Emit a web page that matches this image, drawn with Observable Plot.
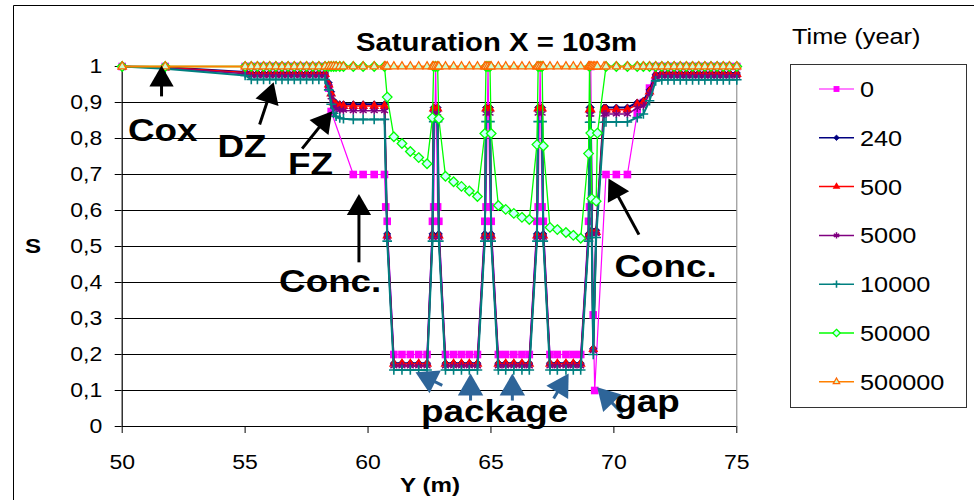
<!DOCTYPE html>
<html><head><meta charset="utf-8">
<script src="https://cdn.jsdelivr.net/npm/d3@7"></script>
<script src="https://cdn.jsdelivr.net/npm/@observablehq/plot@0.6"></script>
<style>
body{margin:0;background:#fff;}
#wrap{position:relative;width:974px;height:500px;overflow:hidden;background:#fff;}
#wrap svg{position:absolute;left:0;top:0;}
</style></head><body><div id="wrap"></div>
<script>
// ---------------- DATA ----------------
const posY = [50,51.75,55,55.25,55.5,55.75,56,56.25,56.5,56.75,57,57.25,57.5,57.75,58,58.25,
 58.4,58.5,58.6,58.7,58.85,59.0,
 59.4,59.8,60.25,60.67,
 60.72,60.78,
 61.05,61.38,61.72,62.06,62.4,
 62.62,62.67,62.75,62.83,62.88,
 63.15,63.48,63.8,64.12,64.45,
 64.75,64.8,64.88,64.96,65.01,
 65.3,65.6,65.93,66.26,66.56,
 66.87,66.92,67.0,67.08,67.13,
 67.4,67.7,68.05,68.35,68.65,
 68.97,69.01,69.06,69.1,69.16,69.22,69.28,69.33,69.6,
 69.68,70.1,70.55,
 70.95,71.2,71.45,71.7,
 71.95,72.2,72.45,72.7,72.95,73.2,73.45,73.7,73.95,74.2,74.45,74.7,75.0];

const s0 = [1,1,1,1,1,1,1,1,1,1,1,1,1,1,1,1,
 0.94,0.875,null,null,null,null,
 0.7,0.7,0.7,0.7,
 0.61,0.57,
 0.2,0.2,0.2,0.2,0.2,
 0.57,0.61,1,0.61,0.57,
 0.2,0.2,0.2,0.2,0.2,
 0.57,0.61,1,0.61,0.57,
 0.2,0.2,0.2,0.2,0.2,
 0.57,0.61,1,0.61,0.57,
 0.2,0.2,0.2,0.2,0.2,
 0.57,0.61,1,null,0.31,0.1,null,null,null,
 0.7,0.7,0.7,
 0.87,0.9,0.94,1,
 1,1,1,1,1,1,1,1,1,1,1,1,1];

const s240 = [1,0.998,0.985,0.982,0.982,0.982,0.982,0.982,0.982,0.982,0.982,0.982,0.982,0.982,0.982,0.982,
 0.955,0.93,0.905,0.898,0.895,0.895,
 0.895,0.895,0.895,0.895,
 null,0.535,
 0.176,0.176,0.176,0.176,0.176,
 0.535,0.886,null,0.886,0.535,
 0.176,0.176,0.176,0.176,0.176,
 0.535,0.886,null,0.886,0.535,
 0.176,0.176,0.176,0.176,0.176,
 0.535,0.886,null,0.886,0.535,
 0.176,0.176,0.176,0.176,0.176,
 0.535,0.886,0.886,0.545,0.217,null,0.545,null,0.886,
 0.886,0.886,0.886,
 0.9,0.905,0.935,0.978,
 0.982,0.982,0.982,0.982,0.982,0.982,0.982,0.982,0.982,0.982,0.982,0.982,0.982];

const s500 = [1,0.997,0.983,0.979,0.979,0.979,0.979,0.979,0.979,0.979,0.979,0.979,0.979,0.979,0.979,0.979,
 0.95,0.925,0.9,0.893,0.89,0.89,
 0.89,0.89,0.89,0.89,
 null,0.53,
 0.174,0.174,0.174,0.174,0.174,
 0.53,0.883,null,0.883,0.53,
 0.174,0.174,0.174,0.174,0.174,
 0.53,0.883,null,0.883,0.53,
 0.174,0.174,0.174,0.174,0.174,
 0.53,0.883,null,0.883,0.53,
 0.174,0.174,0.174,0.174,0.174,
 0.53,0.88,0.88,0.54,0.215,null,0.54,null,0.88,
 0.88,0.88,0.88,
 0.895,0.9,0.93,0.975,
 0.979,0.979,0.979,0.979,0.979,0.979,0.979,0.979,0.979,0.979,0.979,0.979,0.979];

const s5000 = [1,0.996,0.98,0.974,0.974,0.974,0.974,0.974,0.974,0.974,0.974,0.974,0.974,0.974,0.974,0.974,
 0.945,0.915,0.89,0.882,0.879,0.878,
 0.877,0.877,0.877,0.877,
 null,0.525,
 0.168,0.168,0.168,0.168,0.168,
 0.525,0.87,null,0.87,0.525,
 0.168,0.168,0.168,0.168,0.168,
 0.525,0.87,null,0.87,0.525,
 0.168,0.168,0.168,0.168,0.168,
 0.525,0.87,null,0.87,0.525,
 0.168,0.168,0.168,0.168,0.168,
 0.525,0.867,0.867,0.535,0.21,null,0.535,null,0.867,
 0.868,0.868,0.868,
 0.885,0.89,0.925,0.97,
 0.973,0.973,0.973,0.973,0.973,0.973,0.973,0.973,0.973,0.973,0.973,0.973,0.973];

const s10000 = [1,0.994,0.975,0.964,0.964,0.964,0.964,0.964,0.964,0.964,0.964,0.964,0.964,0.964,0.964,0.964,
 0.935,0.895,0.87,0.862,0.857,0.855,
 0.853,0.853,0.853,0.853,
 null,0.515,
 0.157,0.157,0.157,0.157,0.157,
 0.515,0.847,null,0.847,0.515,
 0.157,0.157,0.157,0.157,0.157,
 0.515,0.847,null,0.847,0.515,
 0.157,0.157,0.157,0.157,0.157,
 0.515,0.847,null,0.847,0.515,
 0.157,0.157,0.157,0.157,0.157,
 0.515,0.845,0.845,0.525,0.2,null,0.525,null,0.845,
 0.846,0.846,0.846,
 0.858,0.868,0.905,0.96,
 0.963,0.963,0.963,0.963,0.963,0.963,0.963,0.963,0.963,0.963,0.963,0.963,0.963];

const s50000 = [1,1,1,1,1,1,1,1,1,1,1,1,1,1,1,1,
 1,1,1,1,1,1,
 1,1,1,1,
 null,0.915,
 0.805,0.786,0.764,0.747,0.73,
 0.858,1,1,1,0.855,
 0.695,0.68,0.667,0.654,0.639,
 0.814,1,1,1,0.814,
 0.614,0.603,0.592,0.581,0.575,
 0.783,1,1,1,0.779,
 0.553,0.547,0.539,0.531,0.523,
 0.758,1,0.815,0.633,null,null,0.626,0.815,null,
 1,1,1,
 1,1,1,1,
 1,1,1,1,1,1,1,1,1,1,1,1,1];

const s500000 = posY.map(() => 1); // constant saturation 1 for every node

const timeLabels = ["0","240","500","5000","10000","50000","500000"];
const xTicks = [50,55,60,65,70,75];
const yTicks = [0,0.1,0.2,0.3,0.4,0.5,0.6,0.7,0.8,0.9,1];

// annotations (data coordinates)
const noteText = ["Cox","DZ","FZ","Conc.","Conc.","package","gap"];
const noteX = [51.65,54.87,57.66,58.46,72.1,65.15,71.35];
const noteS = [0.794,0.75,0.70,0.373,0.414,0.012,0.04];
const blackTailX = [51.60,55.59,57.32,59.63,71.02];
const blackTailS = [0.917,0.839,0.772,0.456,0.533];
const blackTipX  = [51.60,56.16,58.54,59.63,69.78];
const blackTipS  = [1.003,0.956,0.876,0.646,0.689];
const blueTailX = [63.02,64.17,65.87,67.55,70.34];
const blueTailS = [0.114,0.072,0.072,0.078,0.036];
const blueTipX  = [61.93,64.17,65.87,68.16,69.32];
const blueTipS  = [0.151,0.147,0.147,0.147,0.109];

// ---------------- STYLES ----------------
const W=974, H=500, ML=121.7, MR=W-736.3, MT=66, MB=74;
const FONT = "Arial, 'Liberation Sans', Helvetica, sans-serif";
const seriesValues = [s0,s240,s500,s5000,s10000,s50000,s500000];
const seriesStyle = [
 {line:"#FF00FF", lw:1.2, symbol:"square", d3s:d3.symbolSquare, fill:"#FF00FF", stroke:"none", sw:0, r:4.3},
 {line:"#000080", lw:2, symbol:"diamond2", d3s:d3.symbolDiamond2, fill:"#000080", stroke:"#000080", sw:0.8, r:3.2},
 {line:"#FF0000", lw:1.5, symbol:"triangle", d3s:d3.symbolTriangle, fill:"#FF0000", stroke:"none", sw:0, r:3.7},
 {line:"#800080", lw:1.5, symbol:"asterisk", d3s:d3.symbolAsterisk, fill:"none", stroke:"#800080", sw:1.5, r:3.8},
 {line:"#008080", lw:2, symbol:"plus", d3s:d3.symbolPlus, fill:"none", stroke:"#008080", sw:1.6, r:3.2},
 {line:"#00FF00", lw:1.3, symbol:"diamond2", d3s:d3.symbolDiamond2, fill:"#CCFFFF", stroke:"#00FF00", sw:1.3, r:4.3},
 {line:"#FF8000", lw:2, symbol:"triangle2", d3s:d3.symbolTriangle2, fill:"#CCFFCC", stroke:"#FF6600", sw:1.2, r:4.0}
];

// pixel helpers (same linear mapping as the plot scales) for arrow heads
const px = x => ML + (x-50)/25*(W-ML-MR);
const py = s => MT + (1-s)*(H-MT-MB);
const ix = p => 50 + (p-ML)/(W-ML-MR)*25;
const iy = p => 1 - (p-MT)/(H-MT-MB);
function arrows(tx, ts, hx, hs, headLen) {
  return tx.map((_, i) => {
    const ax=px(tx[i]), ay=py(ts[i]), bx=px(hx[i]), by=py(hs[i]);
    const dx=bx-ax, dy=by-ay, L=Math.hypot(dx,dy), ux=dx/L, uy=dy/L;
    const off = headLen*2/3;
    return {x1:tx[i], s1:ts[i], x2:ix(bx-ux*off), s2:iy(by-uy*off), rot:Math.atan2(dx,-dy)*180/Math.PI};
  });
}
const headR = h => { const y=h/3; return Math.sqrt(3*Math.sqrt(3)*y*y/Math.PI); };
const blackArrows = arrows(blackTailX, blackTailS, blackTipX, blackTipS, 21);
const blueArrows = arrows(blueTailX, blueTailS, blueTipX, blueTipS, 22);

const notes = noteText.map((t,i)=>({t, x:noteX[i], s:noteS[i]}));

const seriesMarks = seriesValues.flatMap((vals, k) => {
  const st = seriesStyle[k];
  const rows = posY.map((x,i)=>({x, s:vals[i]})).filter(d=>d.s!=null);
  return [
    Plot.line(rows, {x:"x", y:"s", stroke:st.line, strokeWidth:st.lw}),
    Plot.dot(rows, {x:"x", y:"s", symbol:st.symbol, r:st.r, fill:st.fill, stroke:st.stroke, strokeWidth:st.sw})
  ];
});

const fmtY = d => d3.format(".1~f")(d).replace(".", ",");

const chart = Plot.plot({
  width: W, height: H,
  marginLeft: ML, marginRight: MR, marginTop: MT, marginBottom: MB,
  style: {fontSize:"20px", fontFamily:FONT, background:"transparent", overflow:"visible", color:"#000"},
  x: {domain:[50,75], ticks:xTicks, tickSize:7, tickPadding:21, tickFormat:d=>String(d), label:null},
  y: {domain:[0,1], ticks:yTicks, tickSize:7, tickPadding:13, tickFormat:fmtY, label:null},
  marks: [
    Plot.frame({stroke:"#808080"}),
    Plot.ruleY(yTicks, {stroke:"#000", strokeWidth:1}),
    Plot.ruleX([50], {stroke:"#000", strokeWidth:1}),
    ...seriesMarks,
    Plot.link(blackArrows, {x1:"x1", y1:"s1", x2:"x2", y2:"s2", stroke:"#000", strokeWidth:3}),
    Plot.dot(blackArrows, {x:"x2", y:"s2", symbol:"triangle", r:headR(21), fill:"#000", stroke:"none", rotate:"rot"}),
    Plot.link(blueArrows, {x1:"x1", y1:"s1", x2:"x2", y2:"s2", stroke:"#2E6599", strokeWidth:3}),
    Plot.dot(blueArrows, {x:"x2", y:"s2", symbol:"triangle", r:headR(22), fill:"#2E6599", stroke:"none", rotate:"rot"}),
    Plot.text(notes, {x:"x", y:"s", text:"t", fontSize:32, fontWeight:"bold", fill:"#000", textAnchor:"middle", lineAnchor:"bottom"})
  ]
});

document.getElementById("wrap").appendChild(chart);
const svg = d3.select(chart);

// outer chart-area border
svg.insert("path", ":first-child").attr("d","M13.5,520V5.5H990").attr("fill","none").attr("stroke","#000").attr("stroke-width",1);

// title and axis titles
svg.append("text").attr("x",496.5).attr("y",51).attr("text-anchor","middle")
  .attr("font-size",25.5).attr("font-weight","bold").attr("font-family",FONT).text("Saturation X = 103m");
svg.append("text").attr("x",33).attr("y",253).attr("text-anchor","middle")
  .attr("font-size",21).attr("font-weight","bold").attr("font-family",FONT).text("S");
svg.append("text").attr("x",430).attr("y",492).attr("text-anchor","middle")
  .attr("font-size",21).attr("font-weight","bold").attr("font-family",FONT).text("Y (m)");

// legend
const leg = svg.append("g").attr("font-family",FONT).attr("text-anchor","start");
leg.append("text").attr("x",792).attr("y",44).attr("font-size",22).attr("text-anchor","start").text("Time (year)");
leg.append("rect").attr("x",790.5).attr("y",64.5).attr("width",176).attr("height",343)
  .attr("fill","#fff").attr("stroke","#333").attr("stroke-width",1);
timeLabels.forEach((lab,i)=>{
  const st = seriesStyle[i], cy = 89 + i*48.8;
  leg.append("line").attr("x1",819).attr("x2",854).attr("y1",cy).attr("y2",cy)
    .attr("stroke",st.line).attr("stroke-width",Math.min(st.lw,1.6));
  leg.append("path").attr("transform",`translate(836.5,${cy})`)
    .attr("d", d3.symbol(st.d3s, Math.PI*st.r*st.r*0.6)())
    .attr("fill",st.fill).attr("stroke",st.stroke).attr("stroke-width",st.sw);
  leg.append("text").attr("x",860).attr("y",cy).attr("dy","0.36em").attr("font-size",22)
    .attr("text-anchor","start").text(lab);
});

// horizontal glyph stretch of the original picture
chart.querySelectorAll("text").forEach(t => {
  const w = t.getComputedTextLength();
  if (w > 0) { t.setAttribute("textLength", (w*1.15).toFixed(1)); t.setAttribute("lengthAdjust","spacingAndGlyphs"); }
});
</script></body></html>
